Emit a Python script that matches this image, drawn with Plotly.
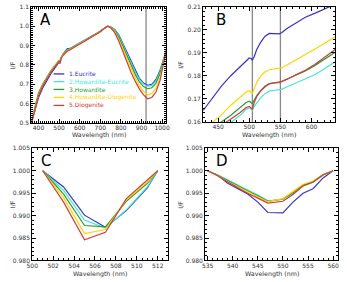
import plotly.graph_objects as go

# ---------------- data ----------------
names = ["1.Eucrite", "2.Howardite-Eucrite", "3.Howardite", "4.Howardite-Diogenite", "5.Diogenite"]
colors = ["#3535c8", "#45e6d6", "#2e9b35", "#ffd400", "#d23c3c"]

# Panel A: normalised spectra
wl_a = [366, 380, 400, 420, 440, 460, 480, 495, 500, 505, 510, 520, 530, 540, 550, 560, 580, 600, 620, 640,
        660, 680, 700, 720, 735, 750, 770, 790, 810, 830, 850, 870, 890, 910, 930, 950, 970, 990, 1005, 1020]
a_eucrite = [0.50, 0.55, 0.63, 0.68, 0.72, 0.755, 0.785, 0.808, 0.815, 0.808, 0.835, 0.858, 0.873, 0.884, 0.884,
             0.89, 0.902, 0.913, 0.925, 0.937, 0.949, 0.961, 0.974, 0.99, 1.0, 0.997, 0.984, 0.955, 0.91, 0.86,
             0.812, 0.768, 0.73, 0.706, 0.695, 0.70, 0.725, 0.773, 0.825, 0.875]
a_how_euc = [0.505, 0.565, 0.648, 0.695, 0.733, 0.766, 0.795, 0.815, 0.821, 0.813, 0.838, 0.856, 0.869, 0.88, 0.882,
             0.888, 0.90, 0.911, 0.923, 0.935, 0.948, 0.96, 0.973, 0.99, 1.0, 0.997, 0.982, 0.95, 0.903, 0.853,
             0.806, 0.762, 0.724, 0.701, 0.69, 0.694, 0.717, 0.765, 0.82, 0.875]
a_howardite = [0.51, 0.575, 0.655, 0.70, 0.738, 0.77, 0.798, 0.818, 0.824, 0.816, 0.84, 0.855, 0.866, 0.877, 0.88,
               0.887, 0.899, 0.91, 0.922, 0.934, 0.947, 0.959, 0.973, 0.99, 1.0, 0.996, 0.978, 0.943, 0.895, 0.843,
               0.795, 0.75, 0.712, 0.688, 0.677, 0.682, 0.705, 0.755, 0.815, 0.875]
a_how_dio = [0.505, 0.565, 0.645, 0.693, 0.732, 0.765, 0.795, 0.815, 0.82, 0.812, 0.837, 0.852, 0.864, 0.874, 0.878,
             0.885, 0.897, 0.909, 0.921, 0.933, 0.946, 0.958, 0.972, 0.99, 1.0, 0.995, 0.972, 0.932, 0.88, 0.826,
             0.777, 0.732, 0.693, 0.663, 0.646, 0.652, 0.68, 0.735, 0.805, 0.875]
a_diogenite = [0.50, 0.56, 0.64, 0.69, 0.728, 0.762, 0.792, 0.813, 0.818, 0.81, 0.835, 0.85, 0.862, 0.872, 0.876,
               0.883, 0.896, 0.908, 0.92, 0.932, 0.945, 0.958, 0.972, 0.99, 1.0, 0.993, 0.967, 0.922, 0.865, 0.81,
               0.76, 0.715, 0.675, 0.645, 0.625, 0.632, 0.66, 0.72, 0.80, 0.875]

# Panel B: absolute I/F, 430-640 nm
wl_b = [426, 440, 455, 470, 485, 495, 500, 503, 505, 508, 512, 518, 525, 532, 540, 548, 552, 560, 575, 590, 605, 620, 638]
b_eucrite = [0.1650, 0.1700, 0.1755, 0.1800, 0.1838, 0.1865, 0.1878, 0.1876, 0.1868, 0.1885, 0.1915, 0.1945, 0.1972,
             0.1985, 0.1985, 0.1983, 0.1988, 0.2005, 0.2030, 0.2055, 0.2072, 0.2092, 0.2112]
b_how_euc = [0.1510, 0.1535, 0.1563, 0.1597, 0.1628, 0.1655, 0.1661, 0.1657, 0.1650, 0.1668, 0.1685, 0.1705, 0.1722,
             0.1734, 0.1738, 0.1739, 0.1742, 0.1752, 0.1770, 0.1785, 0.1805, 0.1830, 0.1862]
b_howardite = [0.1545, 0.1570, 0.1600, 0.1628, 0.1660, 0.1685, 0.1690, 0.1685, 0.1680, 0.1695, 0.1715, 0.1735, 0.1755,
               0.1767, 0.1771, 0.1772, 0.1776, 0.1786, 0.1804, 0.1822, 0.1845, 0.1872, 0.1903]
b_how_dio = [0.1565, 0.1595, 0.1630, 0.1672, 0.1707, 0.1730, 0.1736, 0.1730, 0.1724, 0.1745, 0.1772, 0.1798, 0.1817,
             0.1827, 0.1830, 0.1832, 0.1835, 0.1847, 0.1870, 0.1893, 0.1915, 0.1940, 0.1970]
b_diogenite = [0.1530, 0.1555, 0.1583, 0.1612, 0.1640, 0.1663, 0.1668, 0.1662, 0.1656, 0.1685, 0.1710, 0.1733, 0.1752,
               0.1765, 0.1770, 0.1771, 0.1775, 0.1785, 0.1805, 0.1825, 0.1850, 0.1880, 0.1915]

# Panel C: 505 nm band, continuum removed
wl_c = [501, 503, 505, 507, 509, 511, 512]
c_eucrite = [1.0, 0.9964, 0.9901, 0.9874, 0.9911, 0.9962, 1.0]
c_how_euc = [1.0, 0.9956, 0.9890, 0.9872, 0.9913, 0.9964, 1.0]
c_howardite = [1.0, 0.9948, 0.9878, 0.9875, 0.9932, 0.9972, 1.0]
c_how_dio = [1.0, 0.9940, 0.9860, 0.9869, 0.9935, 0.9975, 1.0]
c_diogenite = [1.0, 0.9930, 0.9846, 0.9863, 0.9938, 0.9978, 1.0]

# Panel D: 548 nm band, continuum removed
wl_d = [535, 537, 539, 541, 543, 545, 547, 550, 552, 554, 556, 558, 560]
d_eucrite = [1.0, 0.9990, 0.9972, 0.9960, 0.9948, 0.9930, 0.9907, 0.9906, 0.9930, 0.9950, 0.9960, 0.9984, 1.0]
d_how_euc = [1.0, 0.9991, 0.9980, 0.9968, 0.9957, 0.9946, 0.9933, 0.9936, 0.9950, 0.9967, 0.9974, 0.9990, 1.0]
d_howardite = [1.0, 0.9990, 0.9978, 0.9966, 0.9955, 0.9944, 0.9932, 0.9937, 0.9951, 0.9968, 0.9975, 0.9991, 1.0]
d_how_dio = [1.0, 0.9989, 0.9976, 0.9964, 0.9953, 0.9942, 0.9931, 0.9938, 0.9953, 0.9970, 0.9977, 0.9992, 1.0]
d_diogenite = [1.0, 0.9989, 0.9975, 0.9962, 0.9950, 0.9939, 0.9928, 0.9932, 0.9947, 0.9966, 0.9975, 0.9991, 1.0]

ticks_a_y = [0.5, 0.6, 0.7, 0.8, 0.9, 1.0, 1.1]
ticks_b_y = [0.16, 0.17, 0.18, 0.19, 0.20, 0.21]
ticks_cd_y = [0.980, 0.985, 0.990, 0.995, 1.000, 1.005]

ref_lines_a = [922]
ref_lines_b = [505, 550]
panel_labels = ["A", "B", "C", "D"]
x_title = "Wavelength (nm)"
y_title = "I/F"

# ---------------- figure ----------------
W, H = 347, 282
fig = go.Figure()

panels = [
    (wl_a, [a_eucrite, a_how_euc, a_howardite, a_how_dio, a_diogenite], "x", "y"),
    (wl_b, [b_eucrite, b_how_euc, b_howardite, b_how_dio, b_diogenite], "x2", "y2"),
    (wl_c, [c_eucrite, c_how_euc, c_howardite, c_how_dio, c_diogenite], "x3", "y3"),
    (wl_d, [d_eucrite, d_how_euc, d_howardite, d_how_dio, d_diogenite], "x4", "y4"),
]
for wl, series, xa, ya in panels:
    for name, col, vals in zip(names, colors, series):
        fig.add_trace(go.Scatter(x=wl, y=vals, mode="lines", name=name, xaxis=xa, yaxis=ya,
                                 line=dict(color=col, width=1.2), showlegend=False))

FONT = "DejaVu Sans"
tickfont = dict(family=FONT, size=6, color="#333")
titlefont = dict(family=FONT, size=6.3, color="#333")


def common(dom, rng, minor, anchor):
    return dict(domain=dom, range=rng, anchor=anchor,
                showline=True, linecolor="black", linewidth=1, mirror="allticks",
                ticks="inside", ticklen=4, tickwidth=0.8, tickcolor="black",
                minor=dict(dtick=minor, ticks="inside", ticklen=2, tickwidth=0.6, tickcolor="black"),
                showgrid=False, zeroline=False, tickfont=tickfont, ticklabeloverflow="allow")


def xax(dom, rng, dtick, minor, anchor):
    d = common(dom, rng, minor, anchor)
    d.update(dtick=dtick, tick0=0, tickformat="d", ticklabelstandoff=-1)
    return d


def yax(dom, rng, tickvals, minor, fmt, anchor):
    d = common(dom, rng, minor, anchor)
    d.update(tickmode="array", tickvals=tickvals, ticktext=[format(v, fmt) for v in tickvals])
    return d


def fx(px):
    return px / W


def fy(py):
    return 1 - py / H


domA = ([fx(26), fx(165)], [fy(122), fy(3)])
domB = ([fx(203), fx(339)], [fy(121), fy(3)])
domC = ([fx(27), fx(167)], [fy(263), fy(148)])
domD = ([fx(205), fx(342)], [fy(263), fy(148)])

fig.update_layout(
    width=W, height=H, margin=dict(l=0, r=0, t=0, b=0),
    paper_bgcolor="white", plot_bgcolor="white",
    font=dict(family=FONT, size=6, color="#333"),
    xaxis=xax(domA[0], [365, 1020], 100, 10, "y"),
    yaxis=yax(domA[1], [0.5, 1.1], ticks_a_y, 0.01, ".1f", "x"),
    xaxis2=xax(domB[0], [426, 638], 50, 10, "y2"),
    yaxis2=yax(domB[1], [0.16, 0.21], ticks_b_y, 0.002, ".2f", "x2"),
    xaxis3=xax(domC[0], [500, 513], 2, 0.5, "y3"),
    yaxis3=yax(domC[1], [0.980, 1.005], ticks_cd_y, 0.001, ".3f", "x3"),
    xaxis4=xax(domD[0], [534.5, 561], 5, 1, "y4"),
    yaxis4=yax(domD[1], [0.980, 1.005], ticks_cd_y, 0.001, ".3f", "x4"),
    showlegend=False,
)

# reference vertical lines
for xv in ref_lines_a:
    fig.add_shape(type="line", xref="x", yref="y domain", x0=xv, x1=xv, y0=0, y1=1,
                  line=dict(color="#888", width=1.3), layer="below")
for xv in ref_lines_b:
    fig.add_shape(type="line", xref="x2", yref="y2 domain", x0=xv, x1=xv, y0=0, y1=1,
                  line=dict(color="#888", width=1.3), layer="below")

# axis titles
for dom, ty in [(domA, 134), (domB, 134), (domC, 277), (domD, 277)]:
    fig.add_annotation(text=x_title, x=(dom[0][0] + dom[0][1]) / 2, y=fy(ty), xref="paper", yref="paper",
                       showarrow=False, xanchor="center", yanchor="middle", font=titlefont)
for dom, tx in [(domA, 7.5), (domB, 179.5), (domC, 7), (domD, 179.5)]:
    fig.add_annotation(text=y_title, x=fx(tx), y=(dom[1][0] + dom[1][1]) / 2, xref="paper", yref="paper",
                       showarrow=False, xanchor="center", yanchor="middle", textangle=-90, font=titlefont)

# panel letters
letter_pos = [(41, 16), (221, 16), (41, 161), (222, 161)]
for lab, (px, py) in zip(panel_labels, letter_pos):
    fig.add_annotation(text=lab, x=fx(px), y=fy(py), xref="paper", yref="paper", showarrow=False,
                       xanchor="center", yanchor="middle", font=dict(family=FONT, size=15, color="black"))

# legend in panel A (coloured lines + coloured text)
leg_y = [71.7, 79.6, 87.6, 95.8, 104.0]
for name, col, py in zip(names, colors, leg_y):
    fig.add_shape(type="line", xref="paper", yref="paper", x0=fx(49), x1=fx(60), y0=fy(py), y1=fy(py),
                  line=dict(color=col, width=1.3))
    fig.add_annotation(text=name, x=fx(62.5), y=fy(py), xref="paper", yref="paper", showarrow=False,
                       xanchor="left", yanchor="middle", font=dict(family=FONT, size=6, color=col))

fig.write_html("out.html", config={"displayModeBar": False},
               post_script="document.body.style.margin='0px';document.body.style.padding='0px';")
